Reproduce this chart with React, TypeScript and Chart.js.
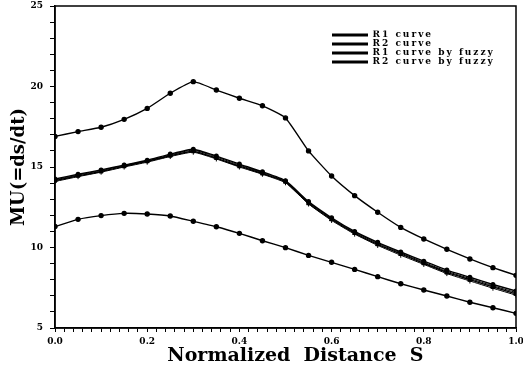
import React, { useEffect, useRef } from "react";
import { Chart, registerables } from "chart.js";

Chart.register(...registerables);

const xs = [0, 0.05, 0.1, 0.15, 0.2, 0.25, 0.3, 0.35, 0.4, 0.45, 0.5, 0.55, 0.6, 0.65, 0.7, 0.75, 0.8, 0.85, 0.9, 0.95, 1.0];

const upperCurve = [16.9, 17.2, 17.47, 17.96, 18.64, 19.58, 20.3, 19.78, 19.27, 18.8, 18.05, 16.0, 14.44, 13.22, 12.19, 11.25, 10.53, 9.89, 9.29, 8.75, 8.27];
const r1Curve = [14.25, 14.55, 14.82, 15.12, 15.42, 15.8, 16.1, 15.68, 15.18, 14.7, 14.15, 12.85, 11.85, 11.0, 10.32, 9.72, 9.15, 8.6, 8.15, 7.7, 7.3];
const r2Curve = [14.15, 14.45, 14.72, 15.05, 15.35, 15.7, 15.98, 15.55, 15.05, 14.6, 14.08, 12.75, 11.75, 10.9, 10.2, 9.6, 9.02, 8.45, 8.0, 7.55, 7.12];
const r1Fuzzy = [14.2, 14.5, 14.78, 15.1, 15.38, 15.75, 16.05, 15.62, 15.12, 14.65, 14.12, 12.8, 11.8, 10.95, 10.26, 9.66, 9.08, 8.52, 8.07, 7.62, 7.2];
const r2Fuzzy = [14.1, 14.4, 14.68, 15.0, 15.3, 15.65, 15.92, 15.5, 15.0, 14.55, 14.02, 12.7, 11.68, 10.83, 10.13, 9.52, 8.95, 8.38, 7.92, 7.47, 7.04];
const lowerCurve = [11.3, 11.75, 11.98, 12.12, 12.08, 11.96, 11.63, 11.29, 10.88, 10.42, 9.99, 9.51, 9.08, 8.64, 8.19, 7.75, 7.36, 6.99, 6.6, 6.26, 5.91];

const legendLabels = ["R1 curve", "R2 curve", "R1 curve by fuzzy", "R2 curve by fuzzy"];
const xTitle = "   Normalized  Distance  S";
const yTitle = "MU(=ds/dt)";

const toPoints = (vals: number[]) => vals.map((v, i) => ({ x: xs[i], y: v }));

const frame = {
  id: "frame",
  afterDraw(chart: any) {
    const { ctx, chartArea } = chart;
    ctx.save();
    ctx.strokeStyle = "#000";
    ctx.lineWidth = 1.5;
    ctx.strokeRect(chartArea.left, chartArea.top, chartArea.right - chartArea.left, chartArea.bottom - chartArea.top);
    ctx.restore();
  },
};

const legendPlace = {
  id: "legendPlace",
  beforeDraw(chart: any) {
    const l = chart.legend;
    if (!l) return;
    l.left = 332;
    l.top = 30.5;
    if (!l._spaced) {
      const orig = l.draw.bind(l);
      l.draw = (area: any) => {
        const c = chart.ctx;
        c.save();
        c.letterSpacing = "2px";
        orig(area);
        c.restore();
      };
      l._spaced = true;
    }
  },
};

export default function App() {
  const ref = useRef<HTMLCanvasElement>(null);
  useEffect(() => {
    if (!ref.current) return;
    const base = { borderColor: "#000", backgroundColor: "#000", borderWidth: 1.4, pointBorderColor: "#000", pointBackgroundColor: "#000", tension: 0.15 };
    const chart = new Chart(ref.current, {
      type: "line",
      data: {
        datasets: [
          { ...base, label: legendLabels[0], data: toPoints(r1Curve), pointRadius: 1.8, pointStyle: "circle" },
          { ...base, label: legendLabels[1], data: toPoints(r2Curve), pointRadius: 1.8, pointStyle: "rect" },
          { ...base, label: legendLabels[2], data: toPoints(r1Fuzzy), pointRadius: 2.5, pointStyle: "cross", borderWidth: 1 },
          { ...base, label: legendLabels[3], data: toPoints(r2Fuzzy), pointRadius: 2.5, pointStyle: "cross", borderWidth: 1 },
          { ...base, label: "", data: toPoints(upperCurve), pointRadius: 2, pointStyle: "circle" },
          { ...base, label: "", data: toPoints(lowerCurve), pointRadius: 2, pointStyle: "circle" },
        ],
      },
      options: {
        animation: false,
        responsive: false,
        layout: { padding: { top: 6, right: 0, left: 0, bottom: 0 } },
        plugins: {
          tooltip: { enabled: false },
          legend: {
            position: "chartArea",
            align: "start",
            labels: {
              generateLabels: (c: any) =>
                (Chart as any).defaults.plugins.legend.labels.generateLabels(c).map((it: any) => ({ ...it, lineWidth: 0 })),
              filter: (item: any) => !!item.text,
              boxWidth: 36,
              boxHeight: 3,
              padding: 0,
              color: "#000",
              font: { family: "DejaVu Serif", weight: "bold", size: 9, lineHeight: 1 },
            },
          },
        },
        scales: {
          x: {
            type: "linear",
            min: 0,
            max: 1,
            afterFit: (s: any) => {
              s.height = 41;
              s.paddingRight = 7;
              s.paddingLeft = 0;
            },
            border: { display: true, color: "#000", width: 1.5 },
            grid: { drawOnChartArea: false, drawTicks: true, tickLength: 4, color: "#000", tickWidth: 1 },
            ticks: {
              stepSize: 0.02,
              autoSkip: false,
              maxRotation: 0,
              padding: 4,
              color: "#000",
              font: { family: "DejaVu Serif", weight: "bold", size: 9 },
              callback: (v: any) => {
                const n = Number(v);
                return Math.abs(n * 5 - Math.round(n * 5)) < 1e-6 ? n.toFixed(1) : "";
              },
            },
            title: {
              display: true,
              text: xTitle,
              color: "#000",
              font: { family: "DejaVu Serif", weight: "bold", size: 19 },
              padding: { top: 0, bottom: 2 },
            },
          },
          y: {
            type: "linear",
            min: 5,
            max: 25,
            afterFit: (s: any) => {
              s.width = 55;
              s.paddingTop = 0;
              s.paddingBottom = 0;
            },
            border: { display: true, color: "#000", width: 1.5 },
            grid: { drawOnChartArea: false, drawTicks: true, tickLength: 5, color: "#000", tickWidth: 1 },
            ticks: {
              stepSize: 1,
              autoSkip: false,
              padding: 7,
              color: "#000",
              font: { family: "DejaVu Serif", weight: "bold", size: 9 },
              callback: (v: any) => {
                const n = Number(v);
                return n % 5 === 0 ? String(n) : "";
              },
            },
            title: {
              display: true,
              text: yTitle,
              color: "#000",
              font: { family: "DejaVu Serif", weight: "bold", size: 18 },
              padding: { top: 9, bottom: 0 },
            },
          },
        },
      },
      plugins: [frame, legendPlace],
    } as any);
    return () => chart.destroy();
  }, []);
  return (
    <div style={{ position: "fixed", left: 0, top: 0, width: 523, height: 369, background: "#fff" }}>
      <canvas ref={ref} width={523} height={369} />
    </div>
  );
}
